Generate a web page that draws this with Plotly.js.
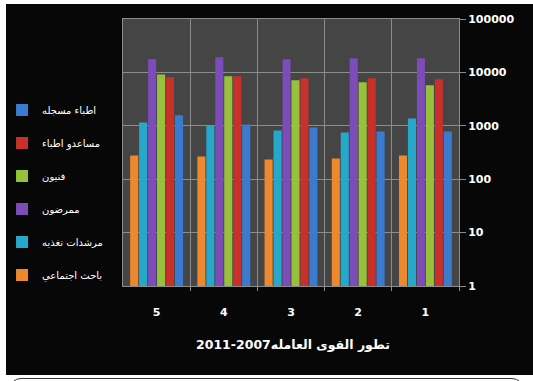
<!DOCTYPE html>
<html>
<head>
<meta charset="utf-8">
<script src="https://cdn.plot.ly/plotly-3.0.1.min.js"></script>
<style>
  html, body { margin:0; padding:0; background:#ffffff; width:533px; height:381px; overflow:hidden; }
  #chart { position:absolute; left:6px; top:4px; width:527px; height:371px; }
  #box { position:absolute; left:9px; top:378px; width:513px; height:40px; border:1.5px solid #333; border-radius:12px; }
</style>
</head>
<body>
<div id="chart"></div>
<div id="box"></div>
<script>
const categories = ["1", "2", "3", "4", "5"];
const seriesNames = ["اطباء مسجله", "مساعدو اطباء", "فنيون", "ممرضون", "مرشدات تغذيه", "باحث اجتماعي"];
const doctors     = [785, 785, 933, 1063, 1570];
const assistants  = [7450, 7780, 7780, 8490, 8130];
const technicians = [5740, 6540, 7130, 8490, 9100];
const nurses      = [18500, 18500, 17700, 19300, 17700];
const guides      = [1377, 752, 820, 1018, 1159];
const social      = [278, 244, 234, 266, 278];
const yTickVals   = [1, 10, 100, 1000, 10000, 100000];
const yTickText   = ["1", "10", "100", "1000", "10000", "100000"];
const chartTitle  = "تطور القوى العامله2007-2011";

const seriesValues = [doctors, assistants, technicians, nurses, guides, social];
const colors = ["#3a7bcf", "#c8302c", "#97c03c", "#7c4cb8", "#26a8cb", "#ee882c"];

const traces = seriesValues.map((vals, i) => ({
  type: "bar",
  x: categories,
  y: vals,
  name: seriesNames[i],
  legendgroup: "g" + i,
  marker: { color: colors[i], line: { width: 0 } },
  hoverinfo: "skip"
}));

const layout = {
  width: 527, height: 371,
  paper_bgcolor: "#070707",
  plot_bgcolor: "#454545",
  margin: { l: 117, r: 74, t: 15, b: 89, autoexpand: false },
  barmode: "group",
  bargap: 0.2,
  bargroupgap: 0.1,
  font: { family: "DejaVu Sans, sans-serif", color: "#ffffff" },
  showlegend: true,
  legend: {
    x: -0.36, xref: "paper", xanchor: "left",
    y: 0.35, yanchor: "middle",
    bgcolor: "rgba(0,0,0,0)",
    font: { family: "DejaVu Sans", size: 10, color: "#ffffff" },
    tracegroupgap: 14,
    traceorder: "grouped",
    itemwidth: 30
  },
  xaxis: {
    type: "category",
    categoryorder: "array",
    categoryarray: categories,
    autorange: "reversed",
    tickson: "boundaries",
    tickangle: 0,
    showgrid: true,
    gridcolor: "#8c8c8c",
    gridwidth: 1,
    showline: true,
    linecolor: "#8c8c8c",
    mirror: true,
    ticks: "outside",
    ticklen: 4,
    tickcolor: "#8c8c8c",
    ticklabelstandoff: 16,
    tickfont: { family: "DejaVu Sans", size: 11, color: "#ffffff", weight: "bold" },
    zeroline: false
  },
  yaxis: {
    type: "log",
    range: [0, 5],
    side: "right",
    tickvals: yTickVals,
    ticktext: yTickText,
    showgrid: true,
    gridcolor: "#8c8c8c",
    gridwidth: 1,
    showline: true,
    linecolor: "#8c8c8c",
    mirror: true,
    ticks: "outside",
    ticklen: 6,
    tickcolor: "#8c8c8c",
    tickfont: { family: "DejaVu Sans", size: 11, color: "#ffffff", weight: "bold" },
    zeroline: false
  },
  annotations: [{
    text: chartTitle,
    xref: "paper", yref: "paper",
    x: 0.505, y: -0.22,
    xanchor: "center", yanchor: "middle",
    showarrow: false,
    font: { family: "DejaVu Sans", size: 12.5, color: "#ffffff", weight: "bold" }
  }]
};

Plotly.newPlot("chart", traces, layout, { displayModeBar: false, staticPlot: true });
</script>
</body>
</html>
